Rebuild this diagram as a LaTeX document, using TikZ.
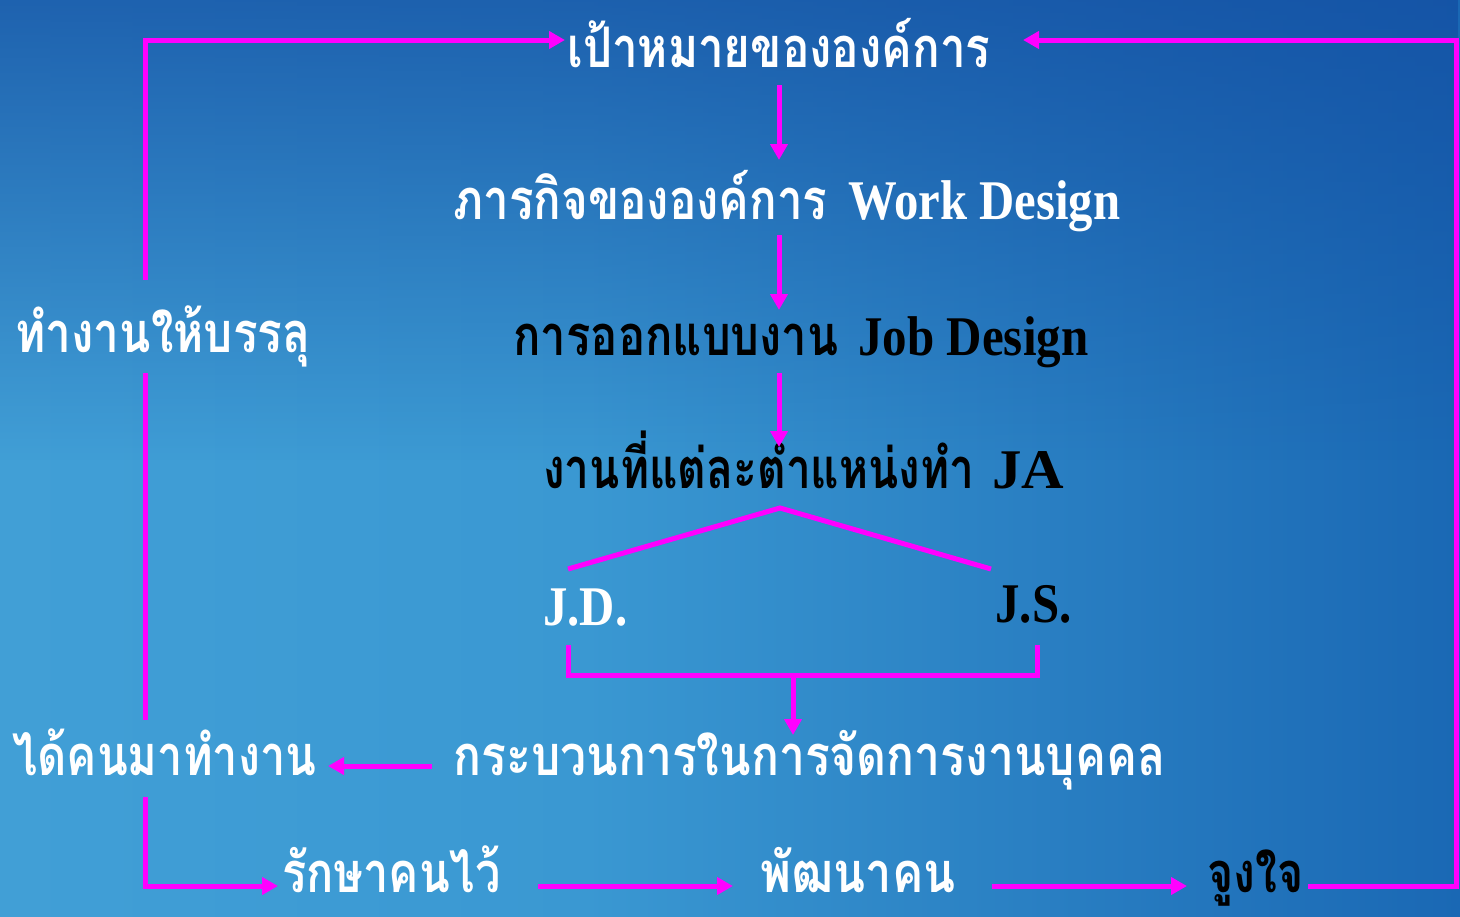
\documentclass[tikz,border=0pt]{standalone}
\usepackage{fontspec}
\usepackage{graphicx}
\usetikzlibrary{arrows.meta,fadings}
\newfontfamily\thai[Script=Thai]{Loma}
\newfontfamily\lserif{Liberation Serif}
\definecolor{mag}{HTML}{FF00FF}
\definecolor{bgA}{HTML}{4AA8DC}
\definecolor{bgB}{HTML}{3A98D2}
\definecolor{bgC}{HTML}{1A68B4}
\definecolor{bgD}{HTML}{0C4A9C}
\definecolor{topdark}{HTML}{134EA2}
\pgfdeclarehorizontalshading{bgshade}{100bp}{color(0bp)=(bgA); color(45bp)=(bgB); color(75bp)=(bgC); color(100bp)=(bgD)}
\newdimen\pxu \pxu=0.5pt
\newcommand\fitx[2]{\resizebox{#1\pxu}{\height}{#2}}
\tikzset{
  conn/.style={draw=mag, line width=2.5pt},
  arr/.style={conn, -{Triangle[length=8pt,width=8.5pt]}},
  lbl/.style={inner sep=0pt, anchor=base west, font=\fontsize{28pt}{30pt}\selectfont},
  wt/.style={lbl, text=white},
  bk/.style={lbl, text=black},
}
\begin{document}
\begin{tikzpicture}[x=0.5pt,y=-0.5pt]
\useasboundingbox (0,0) rectangle (1460,916);
\shade[shading=bgshade] (0,0) rectangle (1460,916);
\fill[topdark, fill opacity=0.75, path fading=south] (0,0) rectangle (1460,460);
% texts
\node[wt] (goal) at (567,67) {\fitx{423}{\thai\bfseries เป้าหมายขององค์การ}};
\node[wt] (mission) at (453,219) {\fitx{374}{\thai\bfseries ภารกิจขององค์การ}};
\node[wt] (missionEn) at (848,219) {\fitx{272}{\lserif\bfseries Work Design}};
\node[bk] (jobdes) at (513,355) {\fitx{325}{\thai\bfseries การออกแบบงาน}};
\node[bk] (jobdesEn) at (858,355) {\fitx{230}{\lserif\bfseries Job Design}};
\node[bk] (ja) at (543,488) {\fitx{431}{\thai\bfseries งานที่แต่ละตำแหน่งทำ}};
\node[bk] (jaEn) at (992,488) {\fitx{72}{\lserif\bfseries JA}};
\node[wt] (jd) at (543,625) {\fitx{84}{\lserif\bfseries J.D.}};
\node[bk] (js) at (995,622) {\fitx{76}{\lserif\bfseries J.S.}};
\node[wt] (hrm) at (453,775) {\fitx{712}{\thai\bfseries กระบวนการในการจัดการงานบุคคล}};
\node[wt] (get) at (12,775) {\fitx{304}{\thai\bfseries ได้คนมาทำงาน}};
\node[wt] (achieve) at (15,352) {\fitx{295}{\thai\bfseries ทำงานให้บรรลุ}};
\node[wt, text depth=0pt] (keep) at (282,892) {\fitx{218}{\thai\bfseries รักษาคนไว้}};
\node[wt, text depth=0pt] (dev) at (760,892) {\fitx{195}{\thai\bfseries พัฒนาคน}};
\node[bk, text depth=0pt] (motiv) at (1207,892) {\fitx{96}{\thai\bfseries จูงใจ}};
% coordinates
\coordinate (goalL) at (565,40);
\coordinate (goalR) at (1023,40);
\coordinate (goalB) at (779,85);
\coordinate (misT) at (779,160);
\coordinate (misB) at (779,235);
\coordinate (jobT) at (779,310);
\coordinate (jobB) at (779,373);
\coordinate (jaT) at (779,447);
\coordinate (roofL) at (568,569);
\coordinate (roofM) at (780,508);
\coordinate (roofR) at (991,569);
\coordinate (jdB) at (568,645);
\coordinate (jsB) at (1037,645);
\coordinate (brM) at (793,675);
\coordinate (hrmT) at (793,735);
\coordinate (hrmL) at (432,766);
\coordinate (getR) at (328,766);
\coordinate (getT) at (145,720);
\coordinate (getB) at (145,797);
\coordinate (achB) at (145,373);
\coordinate (achT) at (145,280);
\coordinate (keepL) at (278,886);
\coordinate (keepR) at (538,886);
\coordinate (devL) at (733,886);
\coordinate (devR) at (992,886);
\coordinate (motL) at (1187,886);
\coordinate (motR) at (1308,886);
\coordinate (rtop) at (1456,40);
% connectors
\draw[arr] (achT) |- (goalL);
\draw[conn] (getT) -- (achB);
\draw[arr] (motR) -| (rtop) -- (goalR);
\draw[arr] (goalB) -- (misT);
\draw[arr] (misB) -- (jobT);
\draw[arr] (jobB) -- (jaT);
\draw[conn] (roofL) -- (roofM) -- (roofR);
\draw[conn] (jdB) -- (jdB |- brM) -- (jsB |- brM) -- (jsB);
\draw[arr] (brM) -- (hrmT);
\draw[arr] (hrmL) -- (getR);
\draw[arr] (getB) |- (keepL);
\draw[arr] (keepR) -- (devL);
\draw[arr] (devR) -- (motL);
\end{tikzpicture}
\end{document}
